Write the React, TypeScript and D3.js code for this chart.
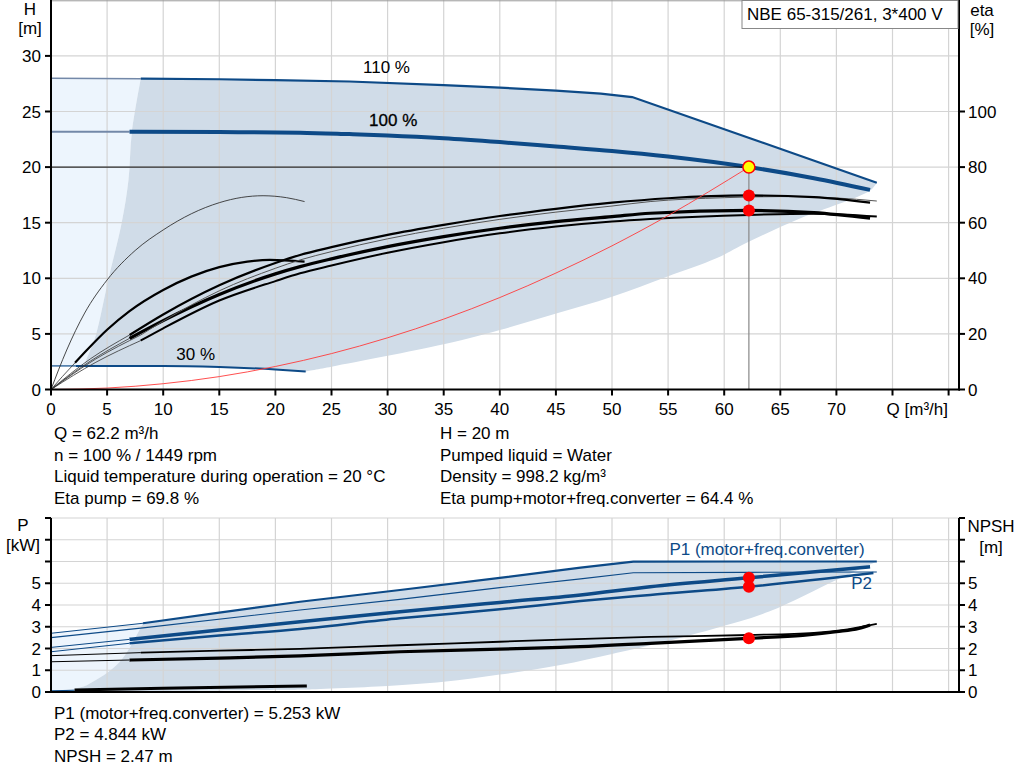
import React from "react";
import * as d3 from "d3";

type Pt = [number, number];

// ---- data (Q in m3/h) ----
const Q_TICKS = [0, 5, 10, 15, 20, 25, 30, 35, 40, 45, 50, 55, 60, 65, 70];
const Q_GRID = [5, 10, 15, 20, 25, 30, 35, 40, 45, 50, 55, 60, 65, 70, 75, 80];
const H_TICKS = [0, 5, 10, 15, 20, 25, 30];
const ETA_TICKS = [0, 20, 40, 60, 80, 100];
const P_TICKS = [0, 1, 2, 3, 4, 5, 6, 7, 8];
const P_LABELS = [0, 1, 2, 3, 4, 5];

// head curves [Q, H]
const head110: Pt[] = [[8, 27.95], [15, 27.9], [20, 27.82], [26.6, 27.7], [35, 27.38], [40, 27.15], [45, 26.88], [49, 26.6], [51.8, 26.3], [62.3, 22.6], [73.6, 18.6]];
const head110Ext: Pt[] = [[0, 28], [8, 27.95]];
const head100: Pt[] = [[7, 23.18], [15, 23.15], [22.2, 23.1], [26.6, 22.97], [30, 22.85], [35, 22.6], [40, 22.25], [45, 21.85], [50, 21.45], [55, 20.95], [62.2, 20.0], [68, 19.0], [73, 17.95]];
const head100Ext: Pt[] = [[0, 23.18], [7, 23.18]];
const head30: Pt[] = [[2.2, 2.12], [10, 2.12], [15, 2.02], [20, 1.8], [22.7, 1.62]];
const head30Ext: Pt[] = [[0, 2.12], [2.2, 2.12]];
const system: Pt[] = [[0, 0], [5, 0.13], [10, 0.52], [15, 1.16], [20, 2.07], [25, 3.23], [30, 4.65], [35, 6.33], [40, 8.27], [45, 10.47], [50, 12.92], [55, 15.64], [62.2, 20]];

// shaded operating area, top chart
const hLeftEdge: Pt[] = [[8, 27.95], [7.2, 23.1], [6.9, 18.8], [6.3, 15], [5.1, 9.85], [4, 4.9], [3.5, 3.55], [2.9, 2.12]];
const hLowerEdge: Pt[] = [[73.6, 18.6], [73, 17.9], [66.8, 15.4], [62, 13.2], [59.3, 11.8], [54.9, 10.15], [50, 8.35], [45.1, 6.85], [40, 5.35], [35, 4.06], [25, 2.05], [22.7, 1.62]];
const hBottomEdge: Pt[] = [[22.7, 1.62], [20, 1.8], [15, 2.02], [10, 2.12], [2.9, 2.12]];

// efficiency curves [Q, eta %]
const etaPump100: Pt[] = [[7, 19.6], [10, 27], [15, 37.5], [20, 45.5], [22.2, 48.4], [25, 51.2], [30, 55.6], [35, 59.2], [40, 62.4], [45, 65], [50, 67.2], [55, 68.8], [62.2, 69.8], [68, 69.2], [73, 67.2]];
const etaPump110: Pt[] = [[8, 19.6], [10, 24.6], [15, 35.5], [20, 43.6], [22.2, 46.6], [25, 49.6], [30, 54.2], [35, 58], [40, 61.2], [45, 63.8], [50, 66], [53.4, 67.6], [60, 69], [65, 69.4], [70, 68.9], [73.6, 67.8]];
const etaTot100: Pt[] = [[7, 18.4], [10, 24.8], [15, 34.2], [20, 41.6], [22.2, 44.2], [25, 47], [30, 51.4], [35, 55], [40, 58], [45, 60.4], [50, 62.2], [53.4, 63.4], [62.2, 64.4], [68, 63.6], [73, 61.6]];
const etaTot110: Pt[] = [[8, 17.6], [10, 22], [15, 32], [20, 39], [22.2, 41.8], [25, 44.6], [30, 49.2], [35, 53], [40, 56.2], [45, 58.6], [50, 60.4], [53.4, 61.3], [62.2, 62.8], [68, 63.2], [73.6, 62.2]];
const etaPump30: Pt[] = [[0, 0], [1.4, 14.2], [3, 27.5], [5, 39.4], [7.5, 50], [10, 57.4], [12.5, 63.2], [15, 67.2], [17, 69.1], [18.9, 69.7], [21, 69], [22.6, 67.6]];
const etaTot30: Pt[] = [[2.14, 9.6], [3.2, 14.2], [5, 21.5], [7, 28.2], [10, 35.8], [12.5, 40.6], [15, 44], [17.5, 46], [19.5, 46.6], [22.6, 46]];
const etaExt: Pt[][] = [
  [[0, 0], [1, 4.6], [2.14, 9.6]],
  [[0, 0], [3.5, 11], [7, 19.6]],
  [[0, 0], [4, 11], [8, 19.6]],
  [[0, 0], [3.5, 10.2], [7, 18.4]],
  [[0, 0], [4, 9.8], [8, 17.6]],
];

// power curves [Q, kW] and NPSH [Q, m]
const p1_110: Pt[] = [[8.2, 3.16], [15, 3.65], [22.2, 4.15], [31.1, 4.69], [40, 5.25], [47.2, 5.72], [51.9, 5.99], [62, 6.0], [73.6, 6.0]];
const p1_110Ext: Pt[] = [[0, 2.7], [8.2, 3.16]];
const p2_110: Pt[] = [[0, 2.5], [8.2, 2.95], [22.2, 3.77], [31.1, 4.26], [40, 4.8], [47.2, 5.2], [51.9, 5.48], [62, 5.5], [73.6, 5.52]];
const p1_100: Pt[] = [[7, 2.42], [15, 2.85], [22.2, 3.23], [31.1, 3.69], [40, 4.12], [47.2, 4.46], [53.4, 4.84], [62.2, 5.25], [73, 5.76]];
const p1_100Ext: Pt[] = [[0, 2.05], [7, 2.42]];
const p2_100: Pt[] = [[7, 2.24], [15, 2.6], [22.2, 2.9], [31.1, 3.39], [40, 3.8], [47.2, 4.18], [53.4, 4.46], [62.2, 4.84], [73.3, 5.47]];
const p2_100Ext: Pt[] = [[0, 1.85], [7, 2.24]];
const npsh100: Pt[] = [[7, 1.47], [15, 1.56], [22.2, 1.66], [31.1, 1.85], [40, 1.97], [45.4, 2.05], [53.4, 2.24], [62.2, 2.47], [67, 2.6], [70, 2.77], [72, 2.92], [73, 3.08]];
const npsh100Ext: Pt[] = [[0, 1.39], [7, 1.47]];
const npsh110: Pt[] = [[8, 1.81], [15, 1.9], [22.2, 1.98], [31.1, 2.15], [40, 2.31], [45.4, 2.41], [53.4, 2.53], [62.2, 2.62], [68, 2.72], [71, 2.88], [73.6, 3.13]];
const npsh110Ext: Pt[] = [[0, 1.67], [8, 1.81]];
const p30: Pt[] = [[2.1, 0.09], [10, 0.17], [22.8, 0.28]];
const p30Ext: Pt[] = [[0, 0.05], [2.1, 0.08]];

// shaded operating area, bottom chart
const pLeftEdge: Pt[] = [[8.2, 3.16], [7.2, 2.2], [6.3, 1.5], [5.3, 1.0], [4, 0.55], [2.9, 0.25], [1.5, 0.1], [0.3, 0.02]];
const pBottomEdge: Pt[] = [[0.3, 0.02], [10, 0.05], [22.8, 0.12]];
const pLowerEdge: Pt[] = [[22.8, 0.12], [30, 0.28], [35, 0.47], [40, 0.8], [45.4, 1.24], [50, 1.75], [53.4, 2.15], [59, 2.9], [64, 3.7], [70, 5.15], [73.6, 6.0]];

// duty point
const DUTY_Q = 62.2;
const DUTY_H = 20;
const DUTY_ETA = [69.8, 64.4];
const DUTY_P = [5.253, 4.844];
const DUTY_NPSH = 2.47;

const INFO_LEFT = ["Q = 62.2 m³/h", "n = 100 % / 1449 rpm", "Liquid temperature during operation = 20 °C", "Eta pump = 69.8 %"];
const INFO_RIGHT = ["H = 20 m", "Pumped liquid = Water", "Density = 998.2 kg/m³", "Eta pump+motor+freq.converter = 64.4 %"];
const INFO_BOTTOM = ["P1 (motor+freq.converter) = 5.253 kW", "P2 = 4.844 kW", "NPSH = 2.47 m"];

const BLUE = "#0d4a87";
const SHADE = "#d0dce8";
const LIGHT = "#edf5fd";
const GRID = "#d4d4d4";
const EXT = "#7388a8";
const FONT = "'Liberation Sans', Arial, sans-serif";

const LEFT = 51;
const RIGHT = 959;

export default function App() {
  const x = d3.scaleLinear().domain([0, 80]).range([LEFT, 948.6]);
  const yH = d3.scaleLinear().domain([0, 35]).range([389.5, 0.3]);
  const yEta = d3.scaleLinear().domain([0, 140]).range([389.5, 0.3]);
  const yP = d3.scaleLinear().domain([0, 8]).range([692, 518]);

  const mk = (y: d3.ScaleLinear<number, number>, curve: d3.CurveFactory = d3.curveMonotoneX) =>
    d3.line<Pt>().x((d) => x(d[0])).y((d) => y(d[1])).curve(curve);
  const lH = mk(yH);
  const lHlin = mk(yH, d3.curveLinear);
  const lE = mk(yEta);
  const lP = mk(yP);
  const lPlin = mk(yP, d3.curveLinear);

  // join several boundary pieces into one closed outline
  const region = (y: d3.ScaleLinear<number, number>, parts: { pts: Pt[]; lin?: boolean }[]) => {
    const smooth = mk(y, d3.curveCatmullRom.alpha(0.5));
    const lin = mk(y, d3.curveLinear);
    return (
      parts
        .map((p, i) => {
          const s = (p.lin ? lin : smooth)(p.pts)!;
          return i === 0 ? s : s.replace(/^M/, "L");
        })
        .join("") + "Z"
    );
  };
  const rev = (a: Pt[]) => [...a].reverse();

  const topLight = region(yH, [{ pts: head110Ext, lin: true }, { pts: hLeftEdge }, { pts: [[2.9, 2.12], [0, 2.12]], lin: true }]);
  const topDark = region(yH, [{ pts: head110, lin: true }, { pts: hLowerEdge }, { pts: hBottomEdge }, { pts: rev(hLeftEdge) }]);
  const botLight = region(yP, [{ pts: p1_110Ext, lin: true }, { pts: pLeftEdge }, { pts: [[0.3, 0.02], [0, 0.02]], lin: true }]);
  const botDark = region(yP, [{ pts: p1_110, lin: true }, { pts: rev(pLowerEdge) }, { pts: rev(pBottomEdge) }, { pts: rev(pLeftEdge) }]);

  const txt = { fontFamily: FONT, fontSize: 17, fill: "#000" } as const;

  return (
    <svg width={1024} height={781} style={{ position: "absolute", left: 0, top: 0, background: "#fff" }}>
      {/* ---------- top chart ---------- */}
      <path d={topLight} fill={LIGHT} />
      <path d={topDark} fill={SHADE} />
      <g stroke={GRID} strokeWidth={1.2}>
        {Q_GRID.map((q) => (
          <line key={q} x1={x(q)} x2={x(q)} y1={0} y2={yH(0)} />
        ))}
        {H_TICKS.slice(1).map((h) => (
          <line key={h} x1={LEFT} x2={RIGHT} y1={yH(h)} y2={yH(h)} />
        ))}
      </g>
      <line x1={LEFT} x2={RIGHT} y1={0.8} y2={0.8} stroke="#999" />

      <path d={lH(head110Ext)!} fill="none" stroke={EXT} strokeWidth={1.5} />
      <path d={lH(head100Ext)!} fill="none" stroke={EXT} strokeWidth={2} />
      <path d={lH(head30Ext)!} fill="none" stroke={BLUE} strokeWidth={1.2} />
      <path d={lHlin(head110)!} fill="none" stroke={BLUE} strokeWidth={2.2} />
      <path d={lH(head100)!} fill="none" stroke={BLUE} strokeWidth={4} />
      <path d={lH(head30)!} fill="none" stroke={BLUE} strokeWidth={2} />

      {etaExt.map((e, i) => (
        <path key={i} d={lE(e)!} fill="none" stroke="#333" strokeWidth={0.8} />
      ))}
      <path d={lE(etaPump30)!} fill="none" stroke="#333" strokeWidth={0.9} />
      <path d={lE(etaTot30)!} fill="none" stroke="#000" strokeWidth={2.2} />
      <path d={lE(etaTot110)!} fill="none" stroke="#000" strokeWidth={2} />
      <path d={lE(etaTot100)!} fill="none" stroke="#000" strokeWidth={3.2} />
      <path d={lE(etaPump110)!} fill="none" stroke="#555" strokeWidth={1} />
      <path d={lE(etaPump100)!} fill="none" stroke="#000" strokeWidth={2.2} />

      <path d={lH(system)!} fill="none" stroke="#ff3b3b" strokeWidth={0.9} />
      <line x1={x(0)} x2={x(DUTY_Q)} y1={yH(DUTY_H)} y2={yH(DUTY_H)} stroke="#000" strokeWidth={1} />
      <line x1={x(DUTY_Q)} x2={x(DUTY_Q)} y1={yH(DUTY_H)} y2={yH(0)} stroke="#888" strokeWidth={1.2} />
      {DUTY_ETA.map((e) => (
        <circle key={e} cx={x(DUTY_Q)} cy={yEta(e)} r={6} fill="#ff0000" />
      ))}
      <circle cx={x(DUTY_Q)} cy={yH(DUTY_H)} r={6} fill="#ffff00" stroke="#ff0000" strokeWidth={1.5} />

      <text {...txt} x={x(29.9)} y={yH(28.46)} textAnchor="middle">110 %</text>
      <text {...txt} x={x(30.5)} y={yH(23.7)} textAnchor="middle" stroke="#000" strokeWidth={0.3}>100 %</text>
      <text {...txt} x={x(12.9)} y={yH(2.65)} textAnchor="middle">30 %</text>

      {/* axes */}
      <g stroke="#000" strokeWidth={2}>
        <line x1={LEFT} x2={LEFT} y1={0} y2={yH(0) + 1} />
        <line x1={LEFT - 1} x2={RIGHT + 1} y1={yH(0)} y2={yH(0)} />
        <line x1={RIGHT} x2={RIGHT} y1={0} y2={yH(0) + 1} />
        {H_TICKS.map((h) => (
          <line key={h} x1={LEFT - 6} x2={LEFT} y1={yH(h)} y2={yH(h)} />
        ))}
        {ETA_TICKS.map((e) => (
          <line key={e} x1={RIGHT} x2={RIGHT + 6} y1={yEta(e)} y2={yEta(e)} />
        ))}
        {[...Q_TICKS, 75, 80].map((q) => (
          <line key={q} x1={x(q)} x2={x(q)} y1={yH(0)} y2={yH(0) + 6} />
        ))}
      </g>
      {H_TICKS.map((h) => (
        <text key={h} {...txt} x={LEFT - 10} y={yH(h) + 6} textAnchor="end">{h}</text>
      ))}
      {ETA_TICKS.map((e) => (
        <text key={e} {...txt} x={RIGHT + 9} y={yEta(e) + 6}>{e}</text>
      ))}
      {Q_TICKS.map((q) => (
        <text key={q} {...txt} x={x(q)} y={yH(0) + 25} textAnchor="middle">{q}</text>
      ))}
      <text {...txt} x={948} y={yH(0) + 25} textAnchor="end">Q [m³/h]</text>
      <text {...txt} x={30} y={15} textAnchor="middle">H</text>
      <text {...txt} x={30} y={34} textAnchor="middle">[m]</text>
      <text {...txt} x={982} y={16} textAnchor="middle">eta</text>
      <text {...txt} x={982} y={35} textAnchor="middle">[%]</text>

      <rect x={742} y={0.5} width={216} height={28} fill="#fff" stroke="#888" />
      <text {...txt} x={747} y={20}>NBE 65-315/261, 3*400 V</text>

      {INFO_LEFT.map((t, i) => (
        <text key={t} {...txt} x={54} y={439 + i * 21.6}>{t}</text>
      ))}
      {INFO_RIGHT.map((t, i) => (
        <text key={t} {...txt} x={440} y={439 + i * 21.6}>{t}</text>
      ))}

      {/* ---------- bottom chart ---------- */}
      <path d={botLight} fill={LIGHT} />
      <path d={botDark} fill={SHADE} />
      <g stroke={GRID} strokeWidth={1.2}>
        {Q_GRID.map((q) => (
          <line key={q} x1={x(q)} x2={x(q)} y1={yP(8)} y2={yP(0)} />
        ))}
        {P_TICKS.slice(1).map((p) => (
          <line key={p} x1={LEFT} x2={RIGHT} y1={yP(p)} y2={yP(p)} />
        ))}
      </g>

      <path d={lP(p1_110Ext)!} fill="none" stroke={BLUE} strokeWidth={1} />
      <path d={lP(p1_100Ext)!} fill="none" stroke={BLUE} strokeWidth={1} />
      <path d={lP(p2_100Ext)!} fill="none" stroke={BLUE} strokeWidth={1} />
      <path d={lP(npsh100Ext)!} fill="none" stroke="#000" strokeWidth={1} />
      <path d={lP(npsh110Ext)!} fill="none" stroke="#000" strokeWidth={1} />
      <path d={lP(p30Ext)!} fill="none" stroke={BLUE} strokeWidth={1.2} />

      <path d={lPlin(p1_110)!} fill="none" stroke={BLUE} strokeWidth={2.2} />
      <path d={lPlin(p2_110)!} fill="none" stroke={BLUE} strokeWidth={1.1} />
      <path d={lP(p1_100)!} fill="none" stroke={BLUE} strokeWidth={3.5} />
      <path d={lP(p2_100)!} fill="none" stroke={BLUE} strokeWidth={2.5} />
      <path d={lP(npsh110)!} fill="none" stroke="#000" strokeWidth={1.8} />
      <path d={lP(npsh100)!} fill="none" stroke="#000" strokeWidth={3.2} />
      <path d={lP(p30)!} fill="none" stroke="#000" strokeWidth={3} />

      {[...DUTY_P, DUTY_NPSH].map((p) => (
        <circle key={p} cx={x(DUTY_Q)} cy={yP(p)} r={6} fill="#ff0000" />
      ))}

      <text {...txt} x={767} y={555} textAnchor="middle" fill={BLUE}>P1 (motor+freq.converter)</text>
      <text {...txt} x={872} y={589} textAnchor="end" fill={BLUE}>P2</text>

      <g stroke="#000" strokeWidth={2}>
        <line x1={LEFT} x2={LEFT} y1={yP(8)} y2={yP(0) + 1} />
        <line x1={LEFT - 1} x2={RIGHT + 1} y1={yP(0)} y2={yP(0)} />
        <line x1={RIGHT} x2={RIGHT} y1={yP(8)} y2={yP(0) + 1} />
        {P_TICKS.map((p) => (
          <line key={"l" + p} x1={LEFT - 6} x2={LEFT} y1={yP(p)} y2={yP(p)} />
        ))}
        {P_TICKS.map((p) => (
          <line key={"r" + p} x1={RIGHT} x2={RIGHT + 6} y1={yP(p)} y2={yP(p)} />
        ))}
      </g>
      {P_LABELS.map((p) => (
        <text key={"l" + p} {...txt} x={LEFT - 10} y={yP(p) + 6} textAnchor="end">{p}</text>
      ))}
      {P_LABELS.map((p) => (
        <text key={"r" + p} {...txt} x={RIGHT + 9} y={yP(p) + 6}>{p}</text>
      ))}
      <text {...txt} x={23} y={531} textAnchor="middle">P</text>
      <text {...txt} x={23} y={551} textAnchor="middle">[kW]</text>
      <text {...txt} x={991} y={532} textAnchor="middle">NPSH</text>
      <text {...txt} x={991} y={553} textAnchor="middle">[m]</text>

      {INFO_BOTTOM.map((t, i) => (
        <text key={t} {...txt} x={54} y={719 + i * 21.4}>{t}</text>
      ))}
    </svg>
  );
}
